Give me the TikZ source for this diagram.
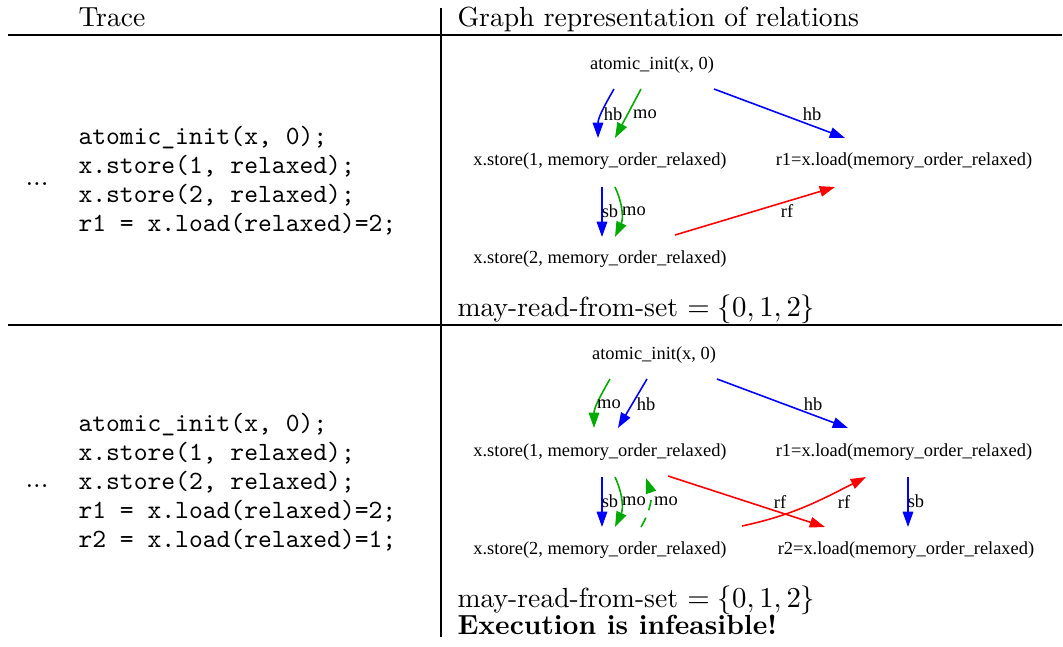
\documentclass[tikz,border=0pt]{standalone}
\usepackage{fontspec}
\newfontfamily\gfont{Liberation Serif}
\usetikzlibrary{arrows.meta,calc}
\definecolor{hbblue}{RGB}{0,0,255}
\definecolor{mogreen}{RGB}{0,170,0}
\definecolor{rfred}{RGB}{255,0,0}
\begin{document}
\begin{tikzpicture}[x=0.38pt,y=0.38pt]
  \tikzstyle{gnode}=[font=\gfont\fontsize{7}{8}\selectfont, inner sep=0pt]
  \tikzstyle{lbl}=[font=\gfont\fontsize{7}{8}\selectfont, inner sep=0pt]
  \tikzstyle{code}=[font=\ttfamily, inner sep=0pt, anchor=base west]
  \tikzstyle{txt}=[font=\fontsize{10.5}{12}\selectfont, inner sep=0pt, anchor=base west]
  \tikzstyle{rel}=[line width=0.6pt, -{Triangle[length=5.8pt,width=4pt]}]
  \tikzstyle{hbedge}=[rel, hbblue]
  \tikzstyle{sbedge}=[rel, hbblue]
  \tikzstyle{moedge}=[rel, mogreen]
  \tikzstyle{rfedge}=[rel, rfred]
  \useasboundingbox (0,0) rectangle (1063,646);

  % table rules
  \draw[line width=0.4pt] (441,9) -- (441,638);
  \draw[line width=0.4pt] (8,611) -- (1062,611);
  \draw[line width=0.4pt] (8,321) -- (1062,321);
  \node[txt] (trace) at (78,620) {Trace};
  \node[txt] (graph) at (457,620) {Graph representation of relations};

  % first trace
  \node[txt] (dots1) at (25,461) {...};
  \node[code] (c1a) at (78,502) {atomic\_init(x, 0);};
  \node[code] (c1b) at (78,473) {x.store(1, relaxed);};
  \node[code] (c1c) at (78,444) {x.store(2, relaxed);};
  \node[code] (c1d) at (78,415) {r1 = x.load(relaxed)=2;};

  \node[gnode] (i1) at (652,581) {atomic\_init(x, 0)};
  \node[gnode] (s1) at (600,485) {x.store(1, memory\_order\_relaxed)};
  \node[gnode] (l1) at (904,485) {r1=x.load(memory\_order\_relaxed)};
  \node[gnode] (s2) at (600,387) {x.store(2, memory\_order\_relaxed)};

  \draw[hbedge] ($(i1)+(-38,-24)$) to[out=-120,in=90] ($(s1)+(-2,23)$);
  \draw[moedge] ($(i1)+(-11,-24)$) -- ($(s1)+(15,23)$);
  \draw[hbedge] ($(i1)+(62,-24)$) -- ($(l1)+(-59,23)$);
  \draw[sbedge] ($(s1)+(2,-26)$) -- ($(s2)+(2,22)$);
  \draw[moedge] ($(s1)+(15,-26)$) to[bend left=25] ($(s2)+(15,22)$);
  \draw[rfedge] ($(s2)+(75,24)$) -- ($(l1)+(-69,-26)$);
  \node[lbl] (lhb1) at (613,532) {hb};
  \node[lbl] (lmo1) at (645,532) {mo};
  \node[lbl] (lhb2) at (812,532) {hb};
  \node[lbl] (lsb1) at (610,435) {sb};
  \node[lbl] (lmo2) at (634,435) {mo};
  \node[lbl] (lrf1) at (787,435) {rf};

  \node[txt] (set1) at (457,330) {may-read-from-set $=\{0,1,2\}$};

  % second trace
  \node[txt] (dots2) at (25,159) {...};
  \node[code] (c2a) at (78,215) {atomic\_init(x, 0);};
  \node[code] (c2b) at (78,186) {x.store(1, relaxed);};
  \node[code] (c2c) at (78,157) {x.store(2, relaxed);};
  \node[code] (c2d) at (78,128) {r1 = x.load(relaxed)=2;};
  \node[code] (c2e) at (78,99) {r2 = x.load(relaxed)=1;};

  \node[gnode] (i2) at (654,291) {atomic\_init(x, 0)};
  \node[gnode] (t1) at (600,194) {x.store(1, memory\_order\_relaxed)};
  \node[gnode] (m1) at (904,194) {r1=x.load(memory\_order\_relaxed)};
  \node[gnode] (t2) at (600,96) {x.store(2, memory\_order\_relaxed)};
  \node[gnode] (m2) at (906,96) {r2=x.load(memory\_order\_relaxed)};

  \draw[moedge] ($(i2)+(-44,-24)$) to[out=-120,in=90] ($(t1)+(-6,24)$);
  \draw[hbedge] ($(i2)+(-7,-24)$) -- ($(t1)+(18,24)$);
  \draw[hbedge] ($(i2)+(63,-24)$) -- ($(m1)+(-56,24)$);
  \draw[sbedge] ($(t1)+(2,-25)$) -- ($(t2)+(2,23)$);
  \draw[moedge] ($(t1)+(15,-25)$) to[bend left=25] ($(t2)+(15,23)$);
  \draw[moedge, dash pattern=on 4pt off 3pt] ($(t2)+(41,23)$) to[bend right=25] ($(t1)+(46,-26)$);
  \draw[rfedge] ($(t1)+(68,-24)$) -- ($(m2)+(-81,23)$);
  \draw[rfedge] ($(t2)+(142,24)$) to[out=12,in=-153] ($(m1)+(-38,-25)$);
  \draw[sbedge] ($(m1)+(4,-25)$) -- ($(m2)+(2,23)$);
  \node[lbl] (lmo3) at (609,242) {mo};
  \node[lbl] (lhb3) at (646,242) {hb};
  \node[lbl] (lhb4) at (813,242) {hb};
  \node[lbl] (lsb2) at (610,145) {sb};
  \node[lbl] (lmo4) at (634,145) {mo};
  \node[lbl] (lmo5) at (666,145) {mo};
  \node[lbl] (lrf2) at (780,144) {rf};
  \node[lbl] (lrf3) at (844,144) {rf};
  \node[lbl] (lsb3) at (916,145) {sb};

  \node[txt] (set2) at (457,39) {may-read-from-set $=\{0,1,2\}$};
  \node[txt] (infeas) at (457,12) {\bfseries Execution is infeasible!};
\end{tikzpicture}
\end{document}
